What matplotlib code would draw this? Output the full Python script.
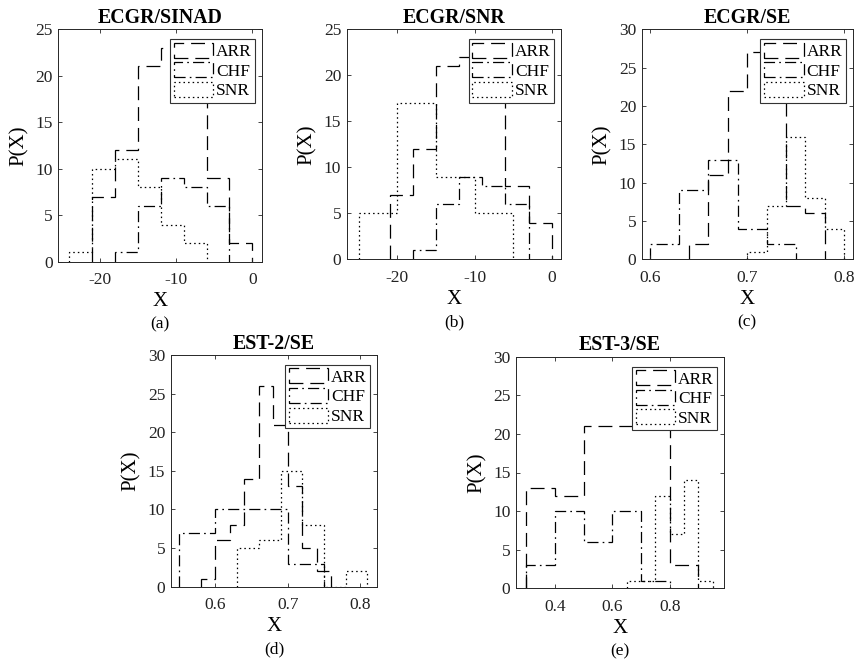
import matplotlib
matplotlib.use("Agg")
import matplotlib.pyplot as plt
from matplotlib.patches import Patch

# ---- histogram counts per database (bin edges and counts) ----
titles = ["ECGR/SINAD", "ECGR/SNR", "ECGR/SE", "EST-2/SE", "EST-3/SE"]
panel_tags = ["(a)", "(b)", "(c)", "(d)", "(e)"]
series_names = ["ARR", "CHF", "SNR"]

arr_edges = [
    [-21, -18, -15, -12, -9, -6, -3, 0],
    [-21, -18, -15, -12, -9, -6, -3, 0],
    [0.64, 0.66, 0.68, 0.70, 0.72, 0.74, 0.76, 0.78],
    [0.58, 0.60, 0.62, 0.64, 0.66, 0.68, 0.70, 0.72, 0.74, 0.76],
    [0.3, 0.4, 0.5, 0.6, 0.7, 0.8, 0.9],
]
arr_counts = [
    [7, 12, 21, 23, 22, 9, 2],
    [7, 12, 21, 22, 22, 8, 4],
    [2, 11, 22, 27, 21, 7, 6],
    [1, 6, 8, 14, 26, 21, 13, 5, 2],
    [13, 12, 21, 21, 26, 3],
]

chf_edges = [
    [-18, -15, -12, -9, -6, -3],
    [-18, -15, -12, -9, -6, -3],
    [0.60, 0.63, 0.66, 0.69, 0.72, 0.75],
    [0.55, 0.60, 0.65, 0.70, 0.75],
    [0.3, 0.4, 0.5, 0.6, 0.7, 0.8],
]
chf_counts = [
    [1, 6, 9, 8, 6],
    [1, 6, 9, 8, 6],
    [2, 9, 13, 4, 2],
    [7, 10, 10, 3],
    [3, 10, 6, 10, 1],
]

snr_edges = [
    [-24, -21, -18, -15, -12, -9, -6],
    [-25, -20, -15, -10, -5],
    [0.70, 0.72, 0.74, 0.76, 0.78, 0.80],
    [0.63, 0.66, 0.69, 0.72, 0.75, 0.78, 0.81],
    [0.65, 0.70, 0.75, 0.80, 0.85, 0.90, 0.95],
]
snr_counts = [
    [1, 10, 11, 8, 4, 2],
    [5, 17, 9, 5],
    [1, 7, 16, 8, 4],
    [5, 6, 15, 8, 0, 2],
    [1, 1, 12, 7, 14, 1],
]

x_ticks = [
    [-20, -10, 0],
    [-20, -10, 0],
    [0.6, 0.7, 0.8],
    [0.6, 0.7, 0.8],
    [0.4, 0.6, 0.8],
]
x_ticklabels = [
    ["-20", "-10", "0"],
    ["-20", "-10", "0"],
    ["0.6", "0.7", "0.8"],
    ["0.6", "0.7", "0.8"],
    ["0.4", "0.6", "0.8"],
]
x_limits = [(-25.4, 1.3), (-26.55, 1.2), (0.591, 0.809), (0.538, 0.824), (0.265, 0.99)]
y_limits = [(0, 25), (0, 25), (0, 30), (0, 30), (0, 30)]
y_ticks = [
    [0, 5, 10, 15, 20, 25],
    [0, 5, 10, 15, 20, 25],
    [0, 5, 10, 15, 20, 25, 30],
    [0, 5, 10, 15, 20, 25, 30],
    [0, 5, 10, 15, 20, 25, 30],
]

# ---- layout (pixel boxes: left, top, right, bottom) ----
W, H = 855, 665
boxes = [
    (58.3, 29.3, 262.3, 261.7),
    (346.7, 29.3, 561.0, 259.3),
    (641.7, 29.3, 852.7, 259.3),
    (170.7, 355.0, 377.3, 586.7),
    (516.0, 356.7, 724.3, 588.3),
]

plt.rcParams["font.family"] = ["Liberation Serif", "DejaVu Serif"]
plt.rcParams["lines.scale_dashes"] = False
plt.rcParams["axes.linewidth"] = 0.7

LW = 0.9
styles = {
    "ARR": (0, (10, 5)),
    "CHF": (0, (8, 3, 1.2, 3)),
    "SNR": (0, (1.1, 2.2)),
}
axis_color = "#262626"

fig = plt.figure(figsize=(W / 100, H / 100), dpi=100)

for i in range(5):
    l, t, r, b = boxes[i]
    ax = fig.add_axes([l / W, 1 - b / H, (r - l) / W, (b - t) / H])
    data = [
        ("ARR", arr_edges[i], arr_counts[i]),
        ("CHF", chf_edges[i], chf_counts[i]),
        ("SNR", snr_edges[i], snr_counts[i]),
    ]
    for name, edges, counts in data:
        ax.stairs(counts, edges, baseline=0, fill=False, color="black",
                  linewidth=LW, linestyle=styles[name])

    ax.set_xlim(*x_limits[i])
    ax.set_ylim(*y_limits[i])
    ax.set_xticks(x_ticks[i])
    ax.set_xticklabels(x_ticklabels[i])
    ax.set_yticks(y_ticks[i])
    ax.tick_params(direction="in", top=True, right=True, length=3,
                   width=0.6, labelsize=12.5, colors=axis_color,
                   labelcolor="#222222")
    ax.tick_params(axis="x", pad=7.5)
    ax.tick_params(axis="y", pad=4)
    for sp in ax.spines.values():
        sp.set_color(axis_color)

    ax.set_title(titles[i], fontsize=14.3, fontweight="bold", pad=4.5)

    hpx = b - t
    wpx = r - l
    ax.set_xlabel("X", fontsize=15)
    ax.xaxis.set_label_coords(0.5, -40 / hpx)
    ax.xaxis.label.set_va("center")
    ax.set_ylabel("P(X)", fontsize=15)
    ax.yaxis.set_label_coords(-39 / wpx, 0.5)
    ax.yaxis.label.set_va("center")
    ax.text(0.5, -63 / hpx, panel_tags[i], transform=ax.transAxes,
            ha="center", va="center", fontsize=12.5)

    handles = [Patch(facecolor="none", edgecolor="black", linewidth=LW,
                     linestyle=styles[n]) for n in series_names]
    leg = ax.legend(handles, series_names, loc="upper right",
                    bbox_to_anchor=(1 - 7 / wpx, 1 - 10 / hpx),
                    borderaxespad=0, fontsize=12.5, handlelength=2.3,
                    handleheight=0.95, handletextpad=0.15, labelspacing=0.12,
                    borderpad=0.2, fancybox=False, framealpha=1,
                    edgecolor="#333333")
    leg.get_frame().set_linewidth(0.8)

fig.savefig("out.png", dpi=100)
